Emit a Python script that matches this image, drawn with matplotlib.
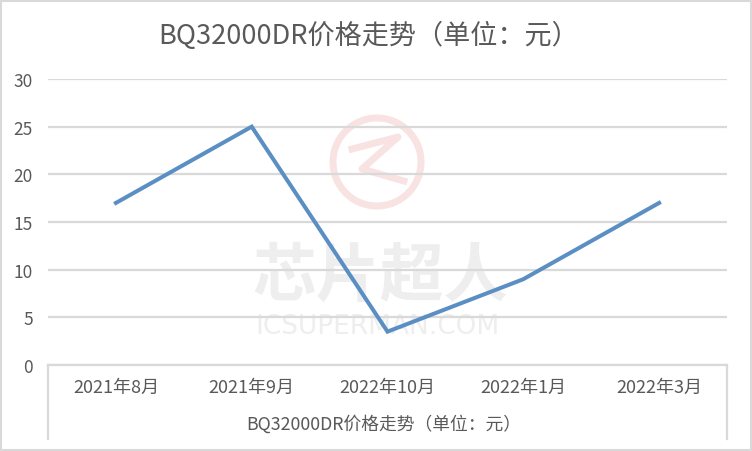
import matplotlib
matplotlib.use("Agg")
import matplotlib.pyplot as plt
from matplotlib.patches import Circle, Rectangle
from matplotlib.lines import Line2D
from matplotlib.transforms import IdentityTransform

plt.rcParams['font.family'] = ['Noto Sans CJK SC', 'DejaVu Sans']

categories = ["2021年8月", "2021年9月", "2022年10月", "2022年1月", "2022年3月"]
prices = [17, 25, 3.5, 9, 17]
yticks = [0, 5, 10, 15, 20, 25, 30]
title = "BQ32000DR价格走势（单位：元）"

W, H = 752, 452
fig = plt.figure(figsize=(W / 100, H / 100), dpi=100)
fig.patch.set_facecolor('white')

def fx(px):
    return px / W

def fy(py):
    return 1 - py / H

# outer border
fig.add_artist(Rectangle((fx(1.5), fy(450.5)), fx(749), 449 / H, transform=fig.transFigure,
                         fill=False, edgecolor='#d9d9d9', linewidth=1.5))

# watermark (behind chart content)
idt = IdentityTransform()
fig.add_artist(Circle((377, H - 163), 44, transform=idt, fill=False,
                      edgecolor='#f8e2e2', linewidth=5, zorder=0))
fig.add_artist(Line2D([352, 398, 362, 404], [H - 150, H - 138, H - 170, H - 182],
                      transform=idt, color='#f8e2e2', linewidth=5, zorder=0))
fig.text(fx(380), fy(277), "芯片超人", ha='center', va='center', fontsize=46, fontweight='bold',
         color='#eeeeee', zorder=0)
fig.text(fx(378), fy(327), "ICSUPERMAN.COM", ha='center', va='center', fontsize=19,
         color='#eeeeee', zorder=0, family=['DejaVu Sans'])

ax = fig.add_axes([fx(48), fy(366), fx(727) - fx(48), fy(80) - fy(366)], zorder=1)
ax.set_facecolor('none')

x = list(range(len(categories)))
ax.plot(x, prices, color='#5b8fc4', linewidth=2.9, solid_joinstyle='miter', zorder=3)

ax.set_xlim(-0.5, len(categories) - 0.5)
ax.set_ylim(0, 30)
ax.set_yticks(yticks)
ax.set_yticklabels([str(v) for v in yticks], fontsize=12.5, color='#595959')
ax.yaxis.grid(True, color='#d9d9d9', linewidth=1.6)
ax.set_axisbelow(True)
ax.tick_params(axis='y', length=0, pad=11)
ax.tick_params(axis='x', length=0, pad=9)
ax.set_xticks(x)
ax.set_xticklabels(categories, fontsize=13, color='#595959')
for s in ['top', 'right', 'left']:
    ax.spines[s].set_visible(False)
ax.spines['bottom'].set_color('#d9d9d9')
ax.spines['bottom'].set_linewidth(1.6)

# category box side lines
for px in (48, 727):
    fig.add_artist(Line2D([fx(px), fx(px)], [fy(366), fy(440)], transform=fig.transFigure,
                          color='#d9d9d9', linewidth=1.6))

fig.text(fx(384), fy(424), title, ha='center', va='center', fontsize=12.8, color='#595959')
fig.text(fx(369), fy(36), title, ha='center', va='center', fontsize=19.5, color='#595959')

fig.savefig('out.png', dpi=100, facecolor='white')
